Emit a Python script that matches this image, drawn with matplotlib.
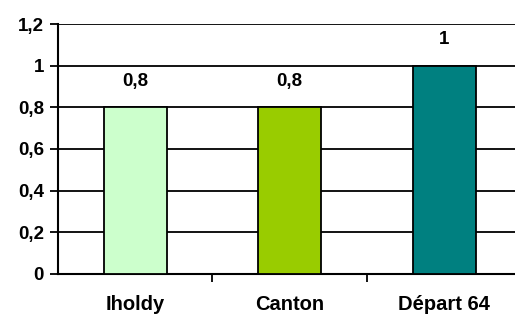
import numpy as np
import matplotlib.pyplot as plt

plt.rcParams['font.family'] = ['Liberation Sans', 'DejaVu Sans']

categories = ['Iholdy', 'Canton', 'Départ 64']
values = [0.8, 0.8, 1.0]
value_labels = ['0,8', '0,8', '1']
bar_colors = ['#CCFFCC', '#99CC00', '#008080']
y_ticks = [0, 0.2, 0.4, 0.6, 0.8, 1.0, 1.2]
y_tick_labels = ['0', '0,2', '0,4', '0,6', '0,8', '1', '1,2']

fig = plt.figure(figsize=(5.15, 3.16), dpi=100)
ax = fig.add_axes([0.1126, 0.133, 0.9, 0.791])

x = np.arange(len(categories))
ax.bar(x, values, width=0.41, color=bar_colors, edgecolor='black', linewidth=1.3, zorder=3)

for xi, v, lab in zip(x, values, value_labels):
    ax.annotate(lab, (xi, v), xytext=(0, 18.5), textcoords='offset points',
                ha='center', va='center', fontsize=13.5, fontweight='bold')

ax.set_xlim(-0.5, 2.5)
ax.set_ylim(0, 1.2)
ax.set_yticks(y_ticks)
ax.set_yticklabels(y_tick_labels, fontsize=13.5, fontweight='bold')
ax.yaxis.grid(True, color='black', linewidth=1.3, zorder=0)
ax.set_axisbelow(True)

ax.set_xticks([0.5, 1.5])
ax.set_xticklabels([])
ax.set_xticks(x, minor=True)
ax.set_xticklabels(categories, minor=True, fontsize=14.5, fontweight='bold')
ax.tick_params(axis='x', which='major', length=6, width=1.3, direction='out')
ax.tick_params(axis='x', which='minor', length=0, pad=15.5)
ax.tick_params(axis='y', length=6, width=1.3, pad=4)

for s in ['top', 'right']:
    ax.spines[s].set_visible(False)
ax.spines['left'].set_linewidth(1.5)
ax.spines['bottom'].set_linewidth(1.5)

fig.savefig('out.png', dpi=100)
